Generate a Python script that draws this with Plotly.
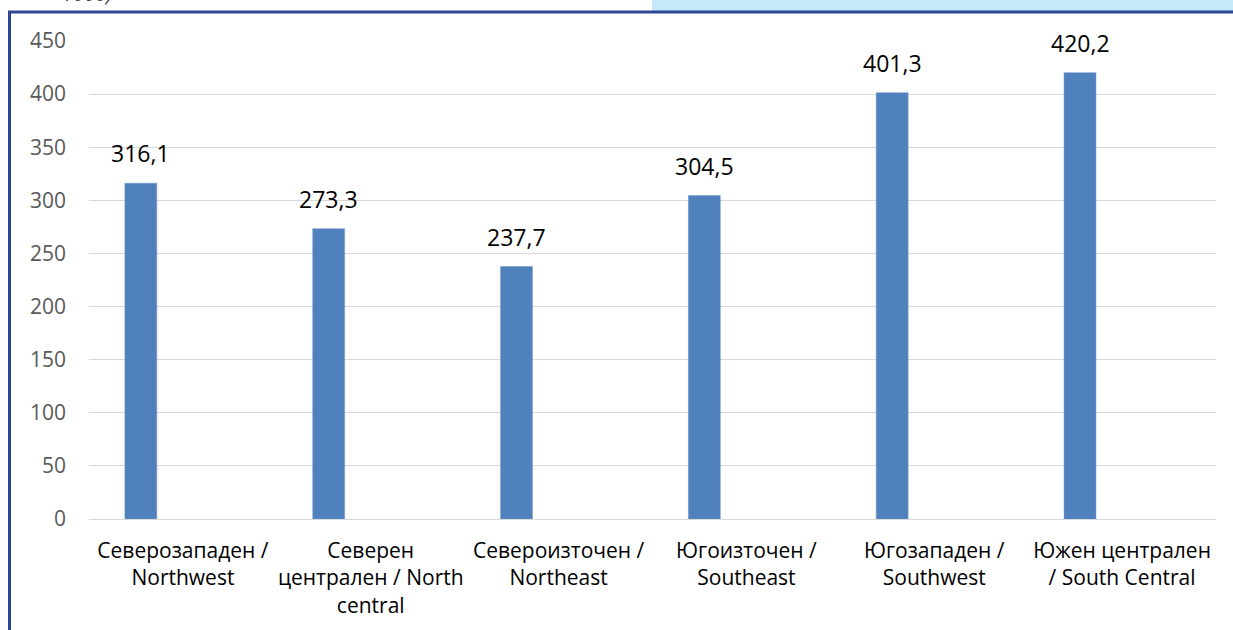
import plotly.graph_objects as go

categories = [
    "Северозападен /<br>Northwest",
    "Северен<br>централен / North<br>central",
    "Североизточен /<br>Northeast",
    "Югоизточен /<br>Southeast",
    "Югозападен /<br>Southwest",
    "Южен централен<br>/ South Central",
]
values = [316.1, 273.3, 237.7, 304.5, 401.3, 420.2]
y_ticks = [0, 50, 100, 150, 200, 250, 300, 350, 400, 450]

W, H = 1233, 630
L, R, T, B = 89, 17, 41, 111
PW, PH = W - L - R, H - T - B

def px_x(px):
    return (px - L) / PW

def px_y(py):
    return (H - B - py) / PH

BAR_OFFSET = -0.309
BAR_WIDTH = 0.17
FONT = "Open Sans"

fig = go.Figure()
fig.add_trace(go.Bar(
    x=categories,
    y=values,
    offset=BAR_OFFSET,
    width=BAR_WIDTH,
    marker=dict(color="#4f81bd", line=dict(color="#6f97c9", width=0.5)),
    hoverinfo="skip",
))

annotations = []
for i, v in enumerate(values):
    annotations.append(dict(
        x=i + BAR_OFFSET + BAR_WIDTH / 2, y=v, xref="x", yref="y",
        text=f"{v:.1f}".replace(".", ","), showarrow=False,
        yanchor="bottom", xanchor="center", yshift=12,
        font=dict(family=FONT, size=23, color="#000000"),
    ))

annotations.append(dict(
    x=px_x(87), y=px_y(9), xref="paper", yref="paper",
    text="<i>1000)</i>", showarrow=False, xanchor="center", yanchor="bottom",
    font=dict(family=FONT, size=20, color="#404040"),
))

shapes = [
    dict(type="rect", xref="paper", yref="paper",
         x0=px_x(652), x1=px_x(W + 5), y0=px_y(11), y1=px_y(-5),
         fillcolor="#c6e8f8", line=dict(width=0), layer="above"),
    dict(type="line", xref="paper", yref="paper",
         x0=px_x(8), x1=px_x(W + 5), y0=px_y(12), y1=px_y(12),
         line=dict(color="#2c4694", width=3)),
    dict(type="line", xref="paper", yref="paper",
         x0=px_x(9.5), x1=px_x(9.5), y0=px_y(11), y1=px_y(H + 5),
         line=dict(color="#2c4694", width=3)),
]

fig.update_layout(
    width=W, height=H,
    margin=dict(l=L, r=R, t=T, b=B, pad=0),
    paper_bgcolor="#ffffff", plot_bgcolor="#ffffff",
    separators=", ",
    showlegend=False,
    annotations=annotations,
    shapes=shapes,
    xaxis=dict(
        type="category",
        range=[-0.5, len(categories) - 0.5],
        showgrid=False, zeroline=False,
        showline=False, ticks="",
        tickfont=dict(family=FONT, size=21, color="#000000"),
        ticklabelstandoff=17,
        fixedrange=True,
    ),
    yaxis=dict(
        range=[0, 450],
        tickvals=y_ticks,
        showgrid=True, gridcolor="#d9d9d9", gridwidth=1,
        zeroline=True, zerolinecolor="#d9d9d9", zerolinewidth=1,
        showline=False, ticks="",
        tickfont=dict(family=FONT, size=21, color="#595959"),
        ticklabelstandoff=22,
        fixedrange=True,
    ),
)

fig.write_html("out.html", config={"displayModeBar": False})
